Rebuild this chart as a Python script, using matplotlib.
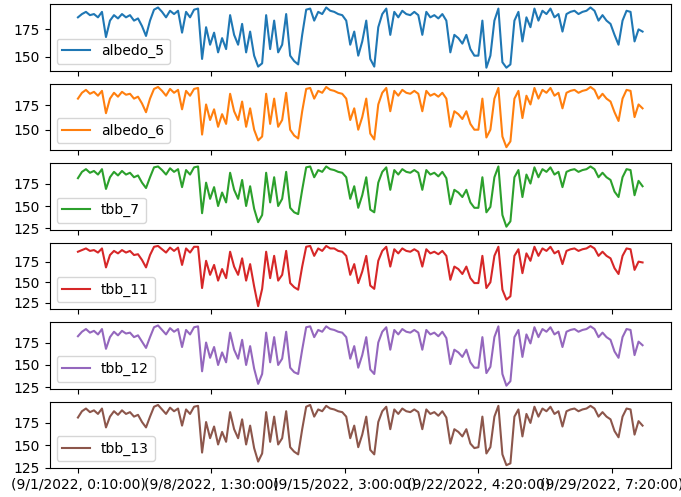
import numpy as np
import matplotlib
matplotlib.use("Agg")
import matplotlib.pyplot as plt

# tick labels of the (date, time) index, one every 1000 rows
tick_pos = [0, 1000, 2000, 3000, 4000]
tick_labels = ["(9/1/2022, 0:10:00)", "(9/8/2022, 1:30:00)", "(9/15/2022, 3:00:00)",
               "(9/22/2022, 4:20:00)", "(9/29/2022, 7:20:00)"]
n_rows = 4231

albedo_5 = [186, 189, 191, 188, 189, 186, 191, 168, 183, 188, 185, 189, 186, 188, 183, 185,
            178, 169, 183, 193, 195, 191, 186, 192, 189, 192, 172, 191, 186, 193, 194, 148,
            177, 161, 172, 154, 167, 157, 188, 170, 161, 180, 154, 173, 151, 141, 144, 188,
            157, 183, 154, 161, 189, 151, 146, 143, 170, 193, 194, 183, 191, 189, 195, 192,
            191, 189, 188, 183, 161, 173, 151, 164, 183, 148, 141, 177, 189, 194, 170, 191,
            186, 192, 189, 188, 191, 188, 170, 191, 186, 188, 185, 189, 183, 154, 170, 167,
            162, 170, 157, 151, 151, 183, 140, 151, 183, 194, 145, 140, 143, 183, 191, 164,
            186, 177, 194, 183, 192, 189, 194, 186, 189, 173, 189, 191, 192, 189, 191, 192,
            195, 192, 183, 188, 183, 180, 170, 161, 183, 192, 191, 164, 175, 173]
albedo_6 = [182, 188, 191, 187, 189, 185, 190, 167, 182, 188, 184, 189, 186, 187, 182, 184,
            177, 168, 182, 192, 194, 190, 185, 192, 188, 191, 171, 190, 185, 192, 193, 145,
            176, 160, 171, 153, 166, 156, 187, 169, 160, 179, 153, 172, 150, 139, 143, 187,
            156, 182, 153, 160, 188, 150, 144, 141, 169, 192, 193, 182, 190, 188, 194, 191,
            190, 188, 187, 182, 160, 172, 150, 163, 182, 146, 140, 176, 188, 193, 169, 190,
            185, 191, 188, 187, 190, 187, 169, 190, 185, 187, 184, 188, 182, 153, 169, 166,
            161, 169, 156, 150, 150, 182, 142, 150, 182, 193, 143, 132, 138, 182, 190, 162,
            185, 176, 193, 182, 191, 188, 193, 185, 188, 172, 188, 190, 191, 188, 190, 191,
            194, 191, 182, 187, 182, 179, 168, 159, 182, 191, 190, 163, 176, 172]
tbb_7 = [181, 188, 191, 187, 189, 185, 191, 169, 182, 188, 184, 189, 185, 187, 182, 184,
         176, 170, 182, 193, 194, 190, 185, 192, 188, 191, 171, 190, 185, 193, 194, 142,
         176, 158, 171, 150, 165, 154, 187, 168, 158, 179, 150, 172, 147, 132, 140, 187,
         154, 182, 150, 158, 188, 148, 143, 141, 168, 193, 194, 182, 190, 188, 194, 191,
         190, 188, 187, 182, 158, 172, 148, 162, 182, 146, 143, 176, 188, 193, 168, 190,
         185, 191, 188, 187, 190, 187, 168, 190, 185, 187, 183, 188, 181, 152, 168, 165,
         160, 168, 154, 148, 148, 182, 143, 149, 182, 194, 140, 127, 133, 182, 190, 160,
         185, 175, 193, 182, 191, 188, 193, 185, 188, 171, 188, 190, 191, 188, 190, 191,
         194, 191, 182, 187, 182, 179, 166, 160, 182, 191, 190, 162, 178, 172]
tbb_11 = [187, 189, 191, 188, 189, 186, 191, 168, 183, 188, 185, 189, 186, 188, 183, 184,
          177, 168, 183, 193, 194, 190, 186, 192, 188, 192, 171, 191, 186, 193, 193, 143,
          176, 159, 171, 152, 166, 155, 187, 169, 159, 179, 152, 172, 145, 121, 142, 187,
          155, 182, 152, 159, 188, 149, 144, 141, 169, 193, 194, 182, 191, 188, 194, 191,
          191, 188, 187, 182, 159, 172, 149, 163, 182, 146, 142, 176, 188, 193, 169, 190,
          185, 191, 188, 187, 190, 187, 169, 190, 185, 187, 184, 188, 182, 153, 169, 166,
          160, 169, 155, 149, 149, 182, 143, 150, 182, 193, 141, 129, 133, 182, 190, 161,
          185, 176, 193, 182, 191, 188, 193, 185, 188, 172, 188, 190, 191, 188, 190, 191,
          194, 191, 182, 187, 182, 179, 167, 160, 182, 191, 190, 165, 175, 174]
tbb_12 = [182, 187, 190, 186, 188, 184, 190, 168, 181, 187, 183, 188, 185, 186, 181, 183,
          176, 169, 181, 192, 194, 189, 184, 191, 187, 190, 170, 189, 184, 192, 193, 143,
          175, 158, 170, 150, 164, 153, 186, 167, 157, 178, 150, 171, 146, 129, 140, 186,
          153, 181, 150, 157, 187, 147, 142, 140, 167, 192, 193, 181, 189, 187, 193, 190,
          189, 187, 186, 181, 157, 171, 147, 161, 181, 145, 140, 175, 187, 192, 167, 189,
          184, 190, 187, 186, 189, 186, 167, 189, 184, 186, 182, 187, 180, 151, 167, 164,
          159, 167, 153, 147, 147, 181, 141, 148, 181, 193, 140, 127, 132, 181, 189, 159,
          184, 174, 192, 181, 190, 187, 192, 184, 187, 170, 187, 189, 190, 187, 189, 190,
          193, 190, 181, 186, 181, 178, 165, 158, 181, 190, 189, 161, 176, 172]
tbb_13 = [181, 188, 191, 187, 189, 185, 191, 170, 182, 188, 184, 189, 185, 187, 182, 184,
          176, 170, 182, 193, 195, 190, 185, 192, 188, 191, 172, 190, 185, 193, 194, 142,
          176, 158, 171, 151, 165, 154, 187, 168, 158, 179, 151, 172, 147, 132, 141, 187,
          154, 182, 151, 158, 188, 148, 143, 140, 168, 193, 195, 182, 190, 188, 194, 191,
          190, 188, 187, 182, 158, 172, 148, 162, 182, 145, 140, 176, 188, 193, 168, 190,
          185, 191, 188, 187, 190, 187, 168, 190, 185, 187, 183, 188, 181, 152, 168, 165,
          160, 168, 152, 147, 148, 182, 141, 148, 182, 194, 140, 128, 130, 182, 190, 160,
          185, 175, 193, 182, 191, 188, 193, 185, 188, 171, 188, 190, 191, 188, 190, 191,
          194, 191, 182, 187, 182, 179, 166, 159, 182, 191, 190, 162, 177, 172]

names = ["albedo_5", "albedo_6", "tbb_7", "tbb_11", "tbb_12", "tbb_13"]
series = [albedo_5, albedo_6, tbb_7, tbb_11, tbb_12, tbb_13]
colors = plt.rcParams["axes.prop_cycle"].by_key()["color"]

fig, axes = plt.subplots(6, 1, sharex=True, figsize=(6.81, 4.97), dpi=100)
fig.subplots_adjust(left=0.073, right=0.985, top=0.991, bottom=0.058, hspace=0.2)

for ax, name, vals, c in zip(axes, names, series, colors):
    x = np.linspace(0, n_rows - 1, len(vals))
    ax.plot(x, vals, color=c, label=name)
    ax.legend(loc="lower left")

axes[-1].set_xticks(tick_pos)
axes[-1].set_xticklabels(tick_labels)

plt.savefig("out.png")
